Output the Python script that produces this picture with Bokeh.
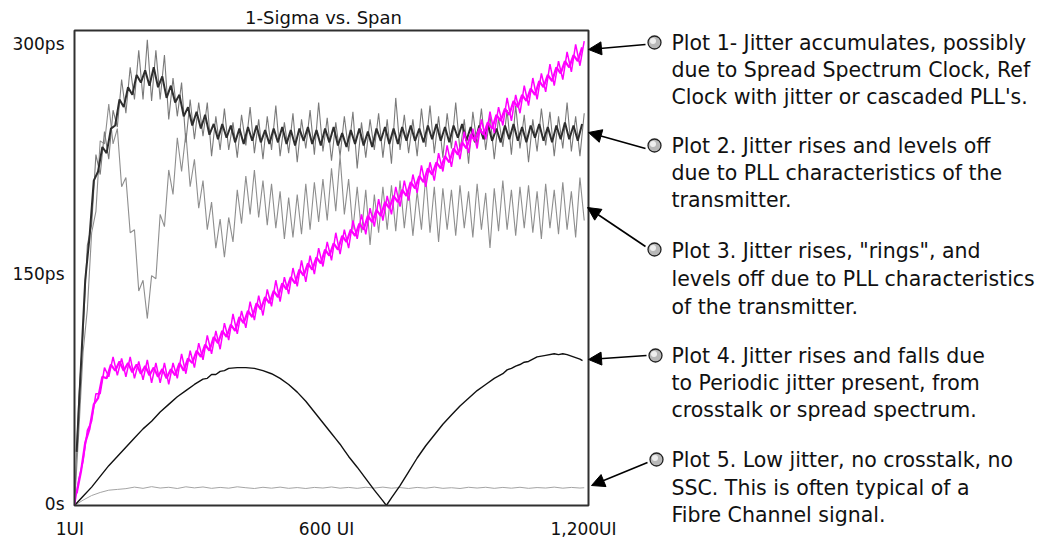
from bokeh.plotting import figure
from bokeh.models import Arrow, NormalHead
from bokeh.core.properties import value
from bokeh.embed import file_html
from bokeh.resources import INLINE

# ---------------- data ----------------
ui_grid = list(range(0, 1191, 10))      # samples at 0, 10, ... UI
ui_grid_mid = list(range(5, 1186, 10))  # samples at 5, 15, ... UI

plot1_ps = [0, 17, 29, 49, 55, 73, 73, 90, 84, 97, 85, 96, 84, 97, 83, 94, 82, 95, 80, 93,
            80, 93, 79, 93, 83, 99, 86, 101, 90, 106, 95, 111, 99, 114, 102, 119, 108, 125, 112, 127,
            116, 133, 121, 137, 124, 141, 130, 147, 133, 149, 138, 155, 143, 160, 146, 163, 151, 168, 156, 172,
            160, 178, 164, 180, 168, 186, 174, 190, 177, 194, 182, 200, 186, 202, 190, 208, 195, 212, 199, 216,
            204, 222, 208, 224, 212, 230, 218, 235, 221, 238, 226, 244, 230, 246, 233, 252, 239, 257, 243, 260,
            248, 266, 251, 268, 256, 274, 261, 279, 265, 282, 270, 288, 274, 290, 278, 296, 283, 301, 287, 303]
plot1_core_ps = [8, 22, 41, 50, 66, 70, 84, 83, 92, 88, 94, 88, 93, 87, 92, 86, 91, 85, 90, 84,
                 89, 83, 89, 85, 93, 88, 96, 93, 101, 97, 105, 101, 110, 106, 114, 110, 118, 114, 123, 119,
                 127, 123, 132, 128, 136, 132, 140, 136, 145, 141, 149, 145, 154, 150, 158, 154, 162, 158, 167, 163,
                 171, 167, 176, 172, 180, 176, 184, 180, 189, 185, 193, 189, 198, 194, 202, 198, 206, 202, 211, 207,
                 215, 211, 220, 216, 224, 220, 228, 224, 233, 229, 237, 233, 242, 238, 246, 242, 250, 246, 255, 251,
                 259, 255, 264, 260, 268, 264, 272, 268, 277, 273, 281, 277, 286, 282, 290, 286, 294, 290, 299]

plot2_ps = [0, 70, 112, 170, 183, 229, 216, 244, 226, 258, 247, 278, 256, 286, 265, 297, 265, 304, 264, 297,
            265, 294, 252, 279, 254, 276, 237, 265, 239, 263, 241, 263, 228, 254, 232, 259, 232, 250, 227, 255,
            235, 260, 230, 252, 226, 254, 232, 261, 228, 250, 230, 256, 224, 252, 233, 258, 229, 263, 231, 253,
            225, 250, 228, 254, 231, 257, 220, 250, 227, 252, 232, 256, 227, 252, 223, 266, 232, 255, 230, 252,
            228, 259, 234, 261, 230, 254, 227, 256, 233, 263, 231, 252, 223, 257, 235, 259, 232, 255, 226, 253,
            234, 258, 229, 261, 233, 255, 224, 252, 231, 259, 235, 257, 228, 254, 233, 263, 231, 254, 228, 256]
plot2_core_ps = [35, 91, 147, 175, 212, 218, 234, 230, 246, 248, 265, 260, 273, 268, 281, 276, 284, 274, 286, 273,
                 280, 266, 274, 263, 268, 254, 260, 248, 257, 246, 255, 242, 249, 239, 249, 240, 248, 237, 246, 236,
                 247, 238, 248, 237, 245, 236, 246, 237, 247, 236, 245, 235, 246, 238, 247, 236, 245, 235, 246, 237,
                 247, 235, 243, 234, 245, 236, 246, 235, 244, 234, 246, 238, 247, 236, 246, 236, 247, 238, 248, 238,
                 246, 237, 248, 239, 249, 238, 247, 237, 248, 240, 249, 238, 247, 237, 248, 239, 249, 238, 246, 237,
                 248, 239, 249, 238, 247, 237, 248, 240, 249, 238, 247, 237, 248, 239, 250, 239, 248, 238, 249]

plot3_ps = [0, 48, 100, 128, 178, 192, 238, 236, 262, 236, 246, 208, 214, 178, 180, 140, 147, 122, 150, 148,
            190, 182, 219, 203, 240, 218, 243, 208, 226, 194, 212, 180, 198, 168, 187, 162, 188, 172, 206, 184,
            215, 190, 219, 188, 212, 183, 210, 181, 205, 174, 201, 175, 203, 177, 210, 180, 211, 185, 213, 186,
            220, 192, 228, 190, 213, 180, 208, 178, 206, 170, 203, 178, 208, 180, 209, 179, 212, 181, 207, 176,
            205, 180, 215, 178, 208, 172, 207, 180, 206, 176, 209, 181, 205, 175, 210, 180, 204, 168, 207, 179,
            212, 180, 206, 176, 208, 181, 209, 178, 205, 174, 210, 181, 206, 177, 211, 180, 205, 175, 214, 186]

plot4_ui = [0, 20, 40, 60, 80, 100, 120, 140, 160, 180, 200, 220, 240, 260, 280, 300, 310, 320, 330, 340,
            350, 360, 380, 400, 420, 440, 460, 480, 500, 520, 540, 560, 580, 600, 610, 620, 630, 640, 660, 680,
            700, 720, 728, 740, 760, 780, 800, 820, 840, 860, 880, 900, 920, 940, 960, 980, 1000, 1010, 1020, 1030,
            1040, 1050, 1060, 1080, 1100, 1120, 1130, 1140, 1150, 1160, 1180, 1186]
plot4_ps = [0, 6, 12, 19, 26, 32, 38, 44, 50, 55, 61, 66, 71, 75, 79, 82.5, 83, 85.5, 85.5, 87.5,
            88, 89.5, 90, 90, 89.5, 88, 86, 83, 79, 74, 68, 61, 54, 47, 43.5, 40, 36, 32, 25, 17.5,
            10, 3, 0, 5, 13, 22, 31, 39, 46, 53, 59, 65, 70, 75, 79, 83, 86, 88.5, 89.5, 91,
            92, 93.5, 94, 97, 98, 99, 98.5, 99, 98.5, 97.5, 95.5, 94.5]

plot5_ui = [0, 20, 40, 60, 80, 100, 120, 140, 160, 180, 200, 220, 240, 260, 280, 300, 320, 340, 360, 380,
            400, 420, 440, 460, 480, 500, 520, 540, 560, 580, 600, 620, 640, 660, 680, 700, 720, 740, 760, 780,
            800, 820, 840, 860, 880, 900, 920, 940, 960, 980, 1000, 1020, 1040, 1060, 1080, 1100, 1120, 1140, 1160, 1180, 1190]
plot5_ps = [0, 3.5, 6.5, 8.5, 10, 10.5, 11, 12, 11.2, 12.3, 11.4, 11.9, 11.1, 12.2, 11.5, 12.1, 11.2, 11.8, 11.3, 12.2,
            11.6, 11.1, 11.9, 11.3, 12.0, 11.2, 11.7, 11.1, 11.8, 11.4, 12.1, 11.3, 11.8, 11.2, 11.9, 11.4, 12.0, 11.3, 11.7, 11.1,
            11.8, 11.3, 12.0, 11.2, 11.6, 11.1, 11.9, 11.4, 11.9, 11.2, 11.8, 11.3, 11.9, 11.2, 11.7, 11.4, 12.0, 11.3, 11.8, 11.4, 11.6]

x_ticks = [1, 600, 1200]
x_tick_labels = ["1UI", "600 UI", "1,200UI"]
y_ticks = [0, 150, 300]
y_tick_labels = ["0s", "150ps", "300ps"]

title_text = "1-Sigma vs. Span"
notes = [
    ["Plot 1- Jitter accumulates, possibly", "due to Spread Spectrum Clock, Ref", "Clock with jitter or cascaded PLL's."],
    ["Plot 2.  Jitter rises and levels off", "due to PLL characteristics of the", "transmitter."],
    ["Plot 3.  Jitter rises, \"rings\", and", "levels off due to PLL characteristics", "of the transmitter."],
    ["Plot 4.  Jitter rises and falls due", "to Periodic jitter present, from", "crosstalk or spread spectrum."],
    ["Plot 5.  Low jitter, no crosstalk, no", "SSC. This is often typical of a", "Fibre Channel signal."],
]

# ---------------- layout ----------------
W, H = 1041, 539
FL, FT, FW, FH = 74, 30, 514, 475          # pixel box of the chart area
X0, X1, Y0, Y1 = 0, 1200, 0, 310           # data extent of the chart area


def X(px):
    return X0 + (px - FL) * (X1 - X0) / FW


def Y(py):
    return Y0 + (FT + FH - py) * (Y1 - Y0) / FH


FONT = value("DejaVu Sans")

p = figure(width=W, height=H, min_border=0, x_axis_location=None, y_axis_location=None,
           x_range=(X(0), X(W)), y_range=(Y(H), Y(0)),
           output_backend="svg", toolbar_location=None, tools="")
p.background_fill_color = "white"
p.border_fill_color = "white"
p.outline_line_color = None
p.xgrid.visible = False
p.ygrid.visible = False

# traces
p.line(plot5_ui, plot5_ps, line_color="#a4a4a4", line_width=1)
p.line(plot4_ui, plot4_ps, line_color="#111111", line_width=1.4)
p.line(ui_grid[:len(plot3_ps)], plot3_ps, line_color="#8e8e8e", line_width=1.1)
p.line(ui_grid[:len(plot2_ps)], plot2_ps, line_color="#7a7a7a", line_width=1.1)
p.line(ui_grid_mid[:len(plot2_core_ps)], plot2_core_ps, line_color="#2e2e2e", line_width=2.0)
p.line(ui_grid[:len(plot1_ps)], plot1_ps, line_color="#ff00ff", line_width=1.5)
p.line(ui_grid_mid[:len(plot1_core_ps)], plot1_core_ps, line_color="#ff00ff", line_width=2.2)

# chart frame
p.quad(left=[X0], right=[X1], bottom=[Y0], top=[Y1], fill_color=None,
       line_color="#303030", line_width=2)

# tick labels (at the tick values)
p.text(x=x_ticks, y=[Y(528)] * len(x_ticks), text=x_tick_labels, x_offset=-5,
       text_align="center", text_baseline="middle", text_font=FONT,
       text_font_size="17px", text_color="#111111")
p.text(x=[X(64)] * len(y_ticks), y=y_ticks, text=y_tick_labels, y_offset=-2,
       text_align="right", text_baseline="middle", text_font=FONT,
       text_font_size="17px", text_color="#111111")

# title
p.text(x=[X(323)], y=[Y(17)], text=[title_text], text_align="center",
       text_baseline="middle", text_font=FONT, text_font_size="18px", text_color="#111111")

# annotations
line_y = [[42, 69, 96], [145, 172, 199], [250, 278, 306], [355, 382, 409], [459, 487, 514]]
circles = [(654, 42), (654, 145), (654, 249), (655, 355), (656, 459)]
arrows = [((645, 44), (588, 49)), ((645, 148), (588, 132)), ((645, 246), (587, 207)),
          ((646, 355), (588, 359)), ((647, 462), (591, 485))]

for (s, e) in arrows:
    p.add_layout(Arrow(x_start=X(s[0]), y_start=Y(s[1]), x_end=X(e[0]), y_end=Y(e[1]),
                       line_color="black", line_width=1.6,
                       end=NormalHead(size=13, fill_color="black", line_color="black")))

p.scatter(x=[X(c[0]) for c in circles], y=[Y(c[1]) for c in circles], size=13,
          fill_color="#b8b8b8", line_color="#222222", line_width=1.3)
p.scatter(x=[X(c[0] - 1.5) for c in circles], y=[Y(c[1] - 1.5) for c in circles], size=6,
          fill_color="#eeeeee", line_color=None)

tx, ty, tt = [], [], []
for lines, ys in zip(notes, line_y):
    for t, yy in zip(lines, ys):
        tx.append(X(671))
        ty.append(Y(yy))
        tt.append(t)
p.text(x=tx, y=ty, text=tt, text_align="left", text_baseline="middle",
       text_font=FONT, text_font_size="20.5px", text_color="#111111")

open("out.html", "w").write(file_html(p, INLINE))
